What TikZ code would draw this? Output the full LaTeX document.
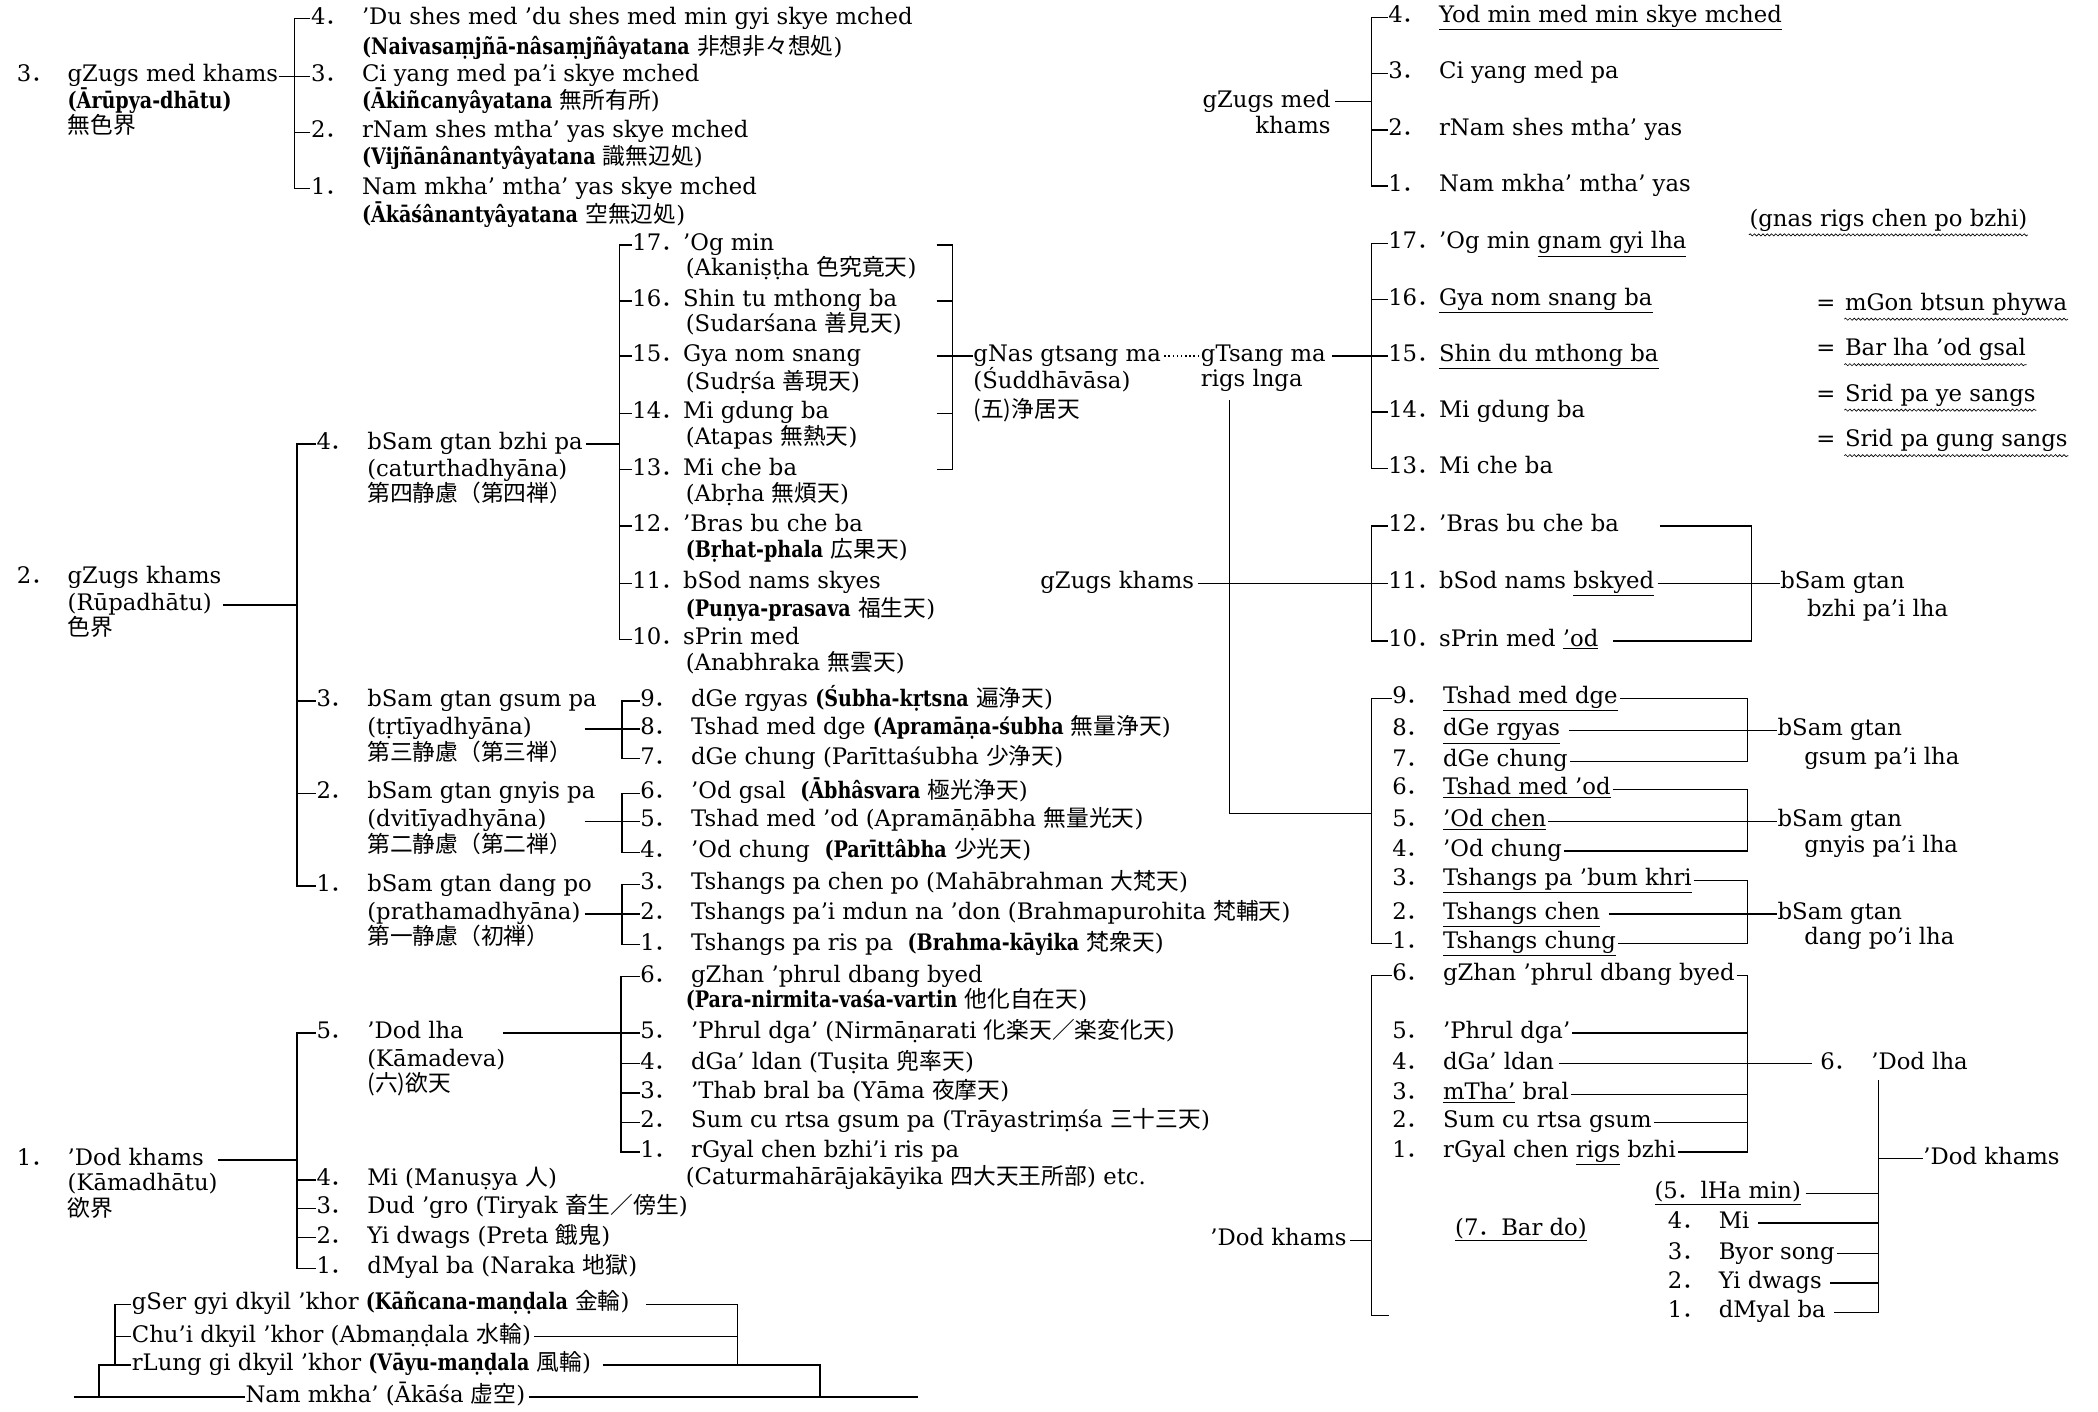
\documentclass[tikz,border=0pt]{standalone}
\usepackage{fontspec}
\setmainfont{DejaVu Serif}
\newfontfamily\jfont{Noto Sans CJK JP}
\newfontfamily\skfont{DejaVu Serif}[FakeStretch=0.84]
\newcommand\J[1]{{\jfont #1}}
\newcommand\sk[1]{{\skfont\bfseries #1}}
\newcommand\nm[1]{\makebox[38pt][l]{#1\J{．}}}
\usetikzlibrary{positioning,decorations.pathmorphing}

\tikzset{
  lbl/.style={anchor=west,inner sep=0pt,text height=12pt,text depth=4pt},
  wavy/.style={decorate,decoration={snake,amplitude=.8pt,segment length=3.2pt},line width=.5pt},
}

\begin{document}
\begin{tikzpicture}[x=1pt,y=-1pt,line width=1.1pt,font=\fontsize{17}{20}\selectfont,every node/.style={lbl}]
  \useasboundingbox (0,0) rectangle (1568,1055);

  % left half: Arupa
  \node (aru)  at (12,57) {\nm{3}gZugs med khams};
  \node (aru2) at (50,77) {\sk{(Ārūpya-dhātu)}};
  \node (aru3) at (50,96) {\J{無色界}};
  \node (a4)  at (232,14)  {\nm{4}’Du shes med ’du shes med min gyi skye mched};
  \node (a4s) at (270,37)  {\sk{(Naivasaṃjñā-nâsaṃjñâyatana} \J{非想非々想処})};
  \node (a3)  at (232,57)  {\nm{3}Ci yang med pa’i skye mched};
  \node (a3s) at (270,77)  {\sk{(Ākiñcanyâyatana} \J{無所有所})};
  \node (a2)  at (232,99)  {\nm{2}rNam shes mtha’ yas skye mched};
  \node (a2s) at (270,119) {\sk{(Vijñānânantyâyatana} \J{識無辺処})};
  \node (a1)  at (232,141) {\nm{1}Nam mkha’ mtha’ yas skye mched};
  \node (a1s) at (270,162) {\sk{(Ākāśânantyâyatana} \J{空無辺処})};
  \coordinate (xA) at (220,0);
  \draw (a4.west) -- (a4.west -| xA) -- (a1.west -| xA) -- (a1.west);
  \draw (a2.west) -- (a2.west -| xA);
  \draw (aru.east) -- (a3.west);

  % left half: Rupa
  \node (rupa)  at (12,432) {\nm{2}gZugs khams};
  \node (rupa2) at (50,452) {(Rūpadhātu)};
  \node (rupa3) at (50,471) {\J{色界}};
  \node (d4)  at (236,332) {\nm{4}bSam gtan bzhi pa};
  \node (d4b) at (274,352) {(caturthadhyāna)};
  \node (d4c) at (274,371) {\J{第四静慮（第四禅）}};
  \node (d3)  at (236,524) {\nm{3}bSam gtan gsum pa};
  \node (d3b) at (274,545) {(tṛtīyadhyāna)};
  \node (d3c) at (274,564) {\J{第三静慮（第三禅）}};
  \node (d2)  at (236,593) {\nm{2}bSam gtan gnyis pa};
  \node (d2b) at (274,614) {(dvitīyadhyāna)};
  \node (d2c) at (274,633) {\J{第二静慮（第二禅）}};
  \node (d1)  at (236,662) {\nm{1}bSam gtan dang po};
  \node (d1b) at (274,683) {(prathamadhyāna)};
  \node (d1c) at (274,702) {\J{第一静慮（初禅）}};
  \coordinate (xR) at (222,0);
  \draw (d4.west) -- (d4.west -| xR) -- (d1.west -| xR) -- (d1.west);
  \draw (d3.west) -- (d3.west -| xR);
  \draw (d2.west) -- (d2.west -| xR);
  \draw ([xshift=8pt]rupa2.east) -- (rupa2.east -| xR);

  \node (h17)  at (472,183) {\nm{17}’Og min};
  \node (h17s) at (512,202) {(Akaniṣṭha \J{色究竟天})};
  \node (h16)  at (472,225) {\nm{16}Shin tu mthong ba};
  \node (h16s) at (512,244) {(Sudarśana \J{善見天})};
  \node (h15)  at (472,266) {\nm{15}Gya nom snang};
  \node (h15s) at (512,287) {(Sudṛśa \J{善現天})};
  \node (h14)  at (472,309) {\nm{14}Mi gdung ba};
  \node (h14s) at (512,328) {(Atapas \J{無熱天})};
  \node (h13)  at (472,351) {\nm{13}Mi che ba};
  \node (h13s) at (512,371) {(Abṛha \J{無煩天})};
  \node (h12)  at (472,393) {\nm{12}’Bras bu che ba};
  \node (h12s) at (512,413) {\sk{(Bṛhat-phala} \J{広果天})};
  \node (h11)  at (472,436) {\nm{11}bSod nams skyes};
  \node (h11s) at (512,457) {\sk{(Puṇya-prasava} \J{福生天})};
  \node (h10)  at (472,478) {\nm{10}sPrin med};
  \node (h10s) at (512,497) {(Anabhraka \J{無雲天})};
  \coordinate (xD) at (463,0);
  \draw (h17.west) -- (h17.west -| xD) -- (h10.west -| xD) -- (h10.west);
  \foreach \n in {h16,h15,h14,h13,h12,h11} \draw (\n.west) -- (\n.west -| xD);
  \draw ([xshift=2pt]d4.east) -- (d4.east -| xD);

  \node (gnas)  at (727,266) {gNas gtsang ma};
  \node (gnas2) at (727,286) {(Śuddhāvāsa)};
  \node (gnas3) at (727,308) {\J{(五)浄居天}};
  \coordinate (xB) at (712,0);
  \draw ([xshift=-12pt]xB |- h17.west) -- (xB |- h17.west) -- (xB |- h13.west) -- ([xshift=-12pt]xB |- h13.west);
  \foreach \n in {h16,h14} \draw ([xshift=-12pt]xB |- \n.west) -- (xB |- \n.west);
  \draw ([xshift=-12pt]xB |- gnas.west) -- (gnas.west);

  \node (g9) at (478,524) {\nm{9}dGe rgyas \sk{(Śubha-kṛtsna} \J{遍浄天})};
  \node (g8) at (478,545) {\nm{8}Tshad med dge \sk{(Apramāṇa-śubha} \J{無量浄天})};
  \node (g7) at (478,567) {\nm{7}dGe chung (Parīttaśubha \J{少浄天})};
  \node (g6) at (478,593) {\nm{6}’Od gsal\ \ \sk{(Ābhâsvara} \J{極光浄天})};
  \node (g5) at (478,614) {\nm{5}Tshad med ’od (Apramāṇābha \J{無量光天})};
  \node (g4) at (478,637) {\nm{4}’Od chung\ \ \sk{(Parīttâbha} \J{少光天})};
  \node (g3) at (478,661) {\nm{3}Tshangs pa chen po (Mahābrahman \J{大梵天})};
  \node (g2) at (478,683) {\nm{2}Tshangs pa’i mdun na ’don (Brahmapurohita\ \J{梵輔天})};
  \node (g1) at (478,706) {\nm{1}Tshangs pa ris pa\ \ \sk{(Brahma-kāyika} \J{梵衆天})};
  \coordinate (xG) at (465,0);
  \coordinate (xJ) at (437,0);
  \draw (g9.west) -- (g9.west -| xG) -- (g7.west -| xG) -- (g7.west);
  \draw (g6.west) -- (g6.west -| xG) -- (g4.west -| xG) -- (g4.west);
  \draw (g3.west) -- (g3.west -| xG) -- (g1.west -| xG) -- (g1.west);
  \draw (d3b.east -| xJ) -- (g8.west);
  \draw (d2b.east -| xJ) -- (g5.west);
  \draw (d1b.east -| xJ) -- (g2.west);

  % left half: Kama
  \node (kam)  at (12,867) {\nm{1}’Dod khams};
  \node (kam2) at (50,886) {(Kāmadhātu)};
  \node (kam3) at (50,905) {\J{欲界}};
  \node (k5)  at (236,772) {\nm{5}’Dod lha};
  \node (k5b) at (274,793) {(Kāmadeva)};
  \node (k5c) at (274,812) {\J{(六)欲天}};
  \node (k4) at (236,882) {\nm{4}Mi (Manuṣya \J{人})};
  \node (k3) at (236,903) {\nm{3}Dud ’gro (Tiryak \J{畜生／傍生})};
  \node (k2) at (236,925) {\nm{2}Yi dwags (Preta \J{餓鬼})};
  \node (k1) at (236,948) {\nm{1}dMyal ba (Naraka \J{地獄})};
  \coordinate (xK) at (222,0);
  \draw (k5.west) -- (k5.west -| xK) -- (k1.west -| xK) -- (k1.west);
  \foreach \n in {k4,k3,k2} \draw (\n.west) -- (\n.west -| xK);
  \draw ([xshift=10pt]kam.east) -- (kam.east -| xK);

  \node (e6)  at (478,730) {\nm{6}gZhan ’phrul dbang byed};
  \node (e6s) at (512,749) {\sk{(Para-nirmita-vaśa-vartin} \J{他化自在天})};
  \node (e5)  at (478,772) {\nm{5}’Phrul dga’ (Nirmāṇarati \J{化楽天／楽変化天})};
  \node (e4)  at (478,795) {\nm{4}dGa’ ldan (Tuṣita \J{兜率天})};
  \node (e3)  at (478,817) {\nm{3}’Thab bral ba (Yāma \J{夜摩天})};
  \node (e2)  at (478,839) {\nm{2}Sum cu rtsa gsum pa (Trāyastriṃśa \J{三十三天})};
  \node (e1)  at (478,861) {\nm{1}rGyal chen bzhi’i ris pa};
  \node (e1s) at (512,881) {(Caturmahārājakāyika \J{四大天王所部}) etc.};
  \coordinate (xE) at (464,0);
  \coordinate (xL) at (376,0);
  \draw (e6.west) -- (e6.west -| xE) -- (e1.west -| xE) -- (e1.west);
  \foreach \n in {e4,e3,e2} \draw (\n.west) -- (\n.west -| xE);
  \draw (k5.east -| xL) -- (e5.west);

  % mandalas
  \node (m3) at (98,975)  {gSer gyi dkyil ’khor \sk{(Kāñcana-maṇḍala} \J{金輪})};
  \node (m2) at (98,999)  {Chu’i dkyil ’khor (Abmaṇḍala \J{水輪})};
  \node (m1) at (98,1020) {rLung gi dkyil ’khor \sk{(Vāyu-maṇḍala} \J{風輪})};
  \node (m0) at (183,1044) {Nam mkha’ (Ākāśa \J{虚空})};
  \coordinate (xM) at (86,0);
  \coordinate (xN) at (74,0);
  \coordinate (xO) at (55,0);
  \coordinate (xP) at (551,0);
  \coordinate (xQ) at (613,0);
  \coordinate (xZ) at (686,0);
  \draw (m3.west) -- (m3.west -| xM) -- (m1.west -| xM);
  \draw (m2.west) -- (m2.west -| xM);
  \draw (m1.west) -- (m1.west -| xN) -- (m0.west -| xN);
  \draw (m0.west -| xO) -- (m0.west);
  \draw ([xshift=2pt]m0.east) -- (m0.east -| xZ);
  \draw ([xshift=12pt]m3.east) -- (m3.east -| xP) -- (m1.east -| xP);
  \draw ([xshift=2pt]m2.east) -- (m2.east -| xP);
  \draw ([xshift=8pt]m1.east) -- (m1.east -| xQ) -- (m0.east -| xQ);

  % right half: Tibetan names
  \node[anchor=east] (zm)  at (995,76) {gZugs med};
  \node[anchor=east] (zm2) at (995,96) {khams};
  \node (y4) at (1037,13)  {\nm{4}\underline{Yod min med min skye mched}};
  \node (y3) at (1037,55)  {\nm{3}Ci yang med pa};
  \node (y2) at (1037,97)  {\nm{2}rNam shes mtha’ yas};
  \node (y1) at (1037,139) {\nm{1}Nam mkha’ mtha’ yas};
  \coordinate (xT) at (1025,0);
  \draw (y4.west) -- (y4.west -| xT) -- (y1.west -| xT) -- (y1.west);
  \draw (y3.west) -- (y3.west -| xT);
  \draw (y2.west) -- (y2.west -| xT);
  \draw ([xshift=3pt]zm.east) -- (zm.east -| xT);

  \node (gnr) at (1307,165) {(gnas rigs chen po bzhi)};
  \draw[wavy] ([yshift=-2pt]gnr.south west) -- ([yshift=-2pt]gnr.south east);

  \node (t17) at (1037,182) {\nm{17}’Og min \underline{gnam gyi lha}};
  \node (t16) at (1037,224) {\nm{16}\underline{Gya nom snang ba}};
  \node (t15) at (1037,266) {\nm{15}\underline{Shin du mthong ba}};
  \node (t14) at (1037,308) {\nm{14}Mi gdung ba};
  \node (t13) at (1037,350) {\nm{13}Mi che ba};
  \draw (t17.west) -- (t17.west -| xT) -- (t13.west -| xT) -- (t13.west);
  \foreach \n in {t16,t14} \draw (\n.west) -- (\n.west -| xT);

  \node (gts)  at (897,266) {gTsang ma};
  \node (gts2) at (897,285) {rigs lnga};
  \draw[dotted] ([xshift=2pt]gnas.east) -- ([xshift=-2pt]gts.west);
  \draw ([xshift=4pt]gts.east) -- (t15.west);

  \node (eqA) at (1357,228) {=};
  \node[right=6pt of eqA] (altA) {mGon btsun phywa};
  \node (eqB) at (1357,262) {=};
  \node[right=6pt of eqB] (altB) {Bar lha ’od gsal};
  \node (eqC) at (1357,296) {=};
  \node[right=6pt of eqC] (altC) {Srid pa ye sangs};
  \node (eqD) at (1357,330) {=};
  \node[right=6pt of eqD] (altD) {Srid pa gung sangs};
  \foreach \n in {altA,altB,altC,altD}
    \draw[wavy] ([yshift=-2pt]\n.south west) -- ([yshift=-2pt]\n.south east);

  \node (r12) at (1037,393) {\nm{12}’Bras bu che ba};
  \node (r11) at (1037,436) {\nm{11}bSod nams \underline{bskyed}};
  \node (r10) at (1037,479) {\nm{10}sPrin med \underline{’od}};
  \draw (r12.west) -- (r12.west -| xT) -- (r10.west -| xT) -- (r10.west);
  \node[anchor=east] (gzk) at (893,436) {gZugs khams};
  \draw ([xshift=2pt]gzk.east) -- (r11.west);
  \node (bs4)  at (1330,436) {bSam gtan};
  \node (bs4b) at (1350,457) {bzhi pa’i lha};
  \coordinate (xU) at (1309,0);
  \draw ([xshift=30pt]r12.east) -- (r12.east -| xU) -- (r10.east -| xU) -- ([xshift=10pt]r10.east);
  \draw ([xshift=2pt]r11.east) -- (bs4.west);

  \coordinate (vTop) at (919,299);
  \coordinate (vJoin) at (1025,608);
  \draw (vTop) |- (vJoin);

  \node (u9) at (1040,522) {\nm{9}\underline{Tshad med dge}};
  \node (u8) at (1040,546) {\nm{8}\underline{dGe rgyas}};
  \node (u7) at (1040,569) {\nm{7}dGe chung};
  \node (u6) at (1040,590) {\nm{6}\underline{Tshad med ’od}};
  \node (u5) at (1040,614) {\nm{5}\underline{’Od chen}};
  \node (u4) at (1040,636) {\nm{4}’Od chung};
  \node (u3) at (1040,658) {\nm{3}\underline{Tshangs pa ’bum khri}};
  \node (u2) at (1040,683) {\nm{2}\underline{Tshangs chen}};
  \node (u1) at (1040,705) {\nm{1}\underline{Tshangs chung}};
  \draw (u9.west) -- (u9.west -| xT) -- (u1.west -| xT) -- (u1.west);
  \node (bs3)  at (1328,546) {bSam gtan};
  \node (bs3b) at (1348,567) {gsum pa’i lha};
  \node (bs2)  at (1328,614) {bSam gtan};
  \node (bs2b) at (1348,633) {gnyis pa’i lha};
  \node (bs1)  at (1328,683) {bSam gtan};
  \node (bs1b) at (1348,702) {dang po’i lha};
  \coordinate (xW) at (1306,0);
  \draw ([xshift=1pt]u9.east) -- (u9.east -| xW) -- (u7.east -| xW) -- ([xshift=1pt]u7.east);
  \draw ([xshift=6pt]u8.east) -- (bs3.west);
  \draw ([xshift=1pt]u6.east) -- (u6.east -| xW) -- (u4.east -| xW) -- ([xshift=1pt]u4.east);
  \draw ([xshift=1pt]u5.east) -- (bs2.west);
  \draw ([xshift=1pt]u3.east) -- (u3.east -| xW) -- (u1.east -| xW) -- ([xshift=1pt]u1.east);
  \draw ([xshift=6pt]u2.east) -- (bs1.west);

  \node[anchor=east] (dk) at (1007,927) {’Dod khams};
  \node (v6) at (1040,729) {\nm{6}gZhan ’phrul dbang byed};
  \node (v5) at (1040,772) {\nm{5}’Phrul dga’};
  \node (v4) at (1040,795) {\nm{4}dGa’ ldan};
  \node (v3) at (1040,818) {\nm{3}\underline{mTha’} bral};
  \node (v2) at (1040,839) {\nm{2}Sum cu rtsa gsum};
  \node (v1) at (1040,861) {\nm{1}rGyal chen \underline{rigs} bzhi};
  \coordinate (kBot) at (1038,983);
  \draw (v6.west) -- (v6.west -| xT) -- (kBot -| xT) -- (kBot);
  \draw ([xshift=2pt]dk.east) -- (dk.east -| xT);
  \draw ([xshift=1pt]v6.east) -- (v6.east -| xW) -- (v1.east -| xW) -- ([xshift=1pt]v1.east);
  \foreach \n in {v5,v3,v2} \draw ([xshift=1pt]\n.east) -- (\n.east -| xW);
  \node (dl) at (1360,795) {\nm{6}’Dod lha};
  \draw ([xshift=3pt]v4.east) -- ([xshift=-6pt]dl.west);

  \node (bardo) at (1087,919) {\underline{(7\J{．}Bar do)}};
  \node (x5) at (1236,892) {\underline{(5\J{．}lHa min)}};
  \node (x4) at (1246,914) {\nm{4}Mi};
  \node (x3) at (1246,937) {\nm{3}Byor song};
  \node (x2) at (1246,959) {\nm{2}Yi dwags};
  \node (x1) at (1246,981) {\nm{1}dMyal ba};
  \node (dk2) at (1437,866) {’Dod khams};
  \coordinate (dlBot) at (1404,807);
  \draw (dlBot) -- (dlBot |- x1.west) -- ([xshift=6pt]x1.east);
  \draw (dlBot |- dk2.west) -- (dk2.west);
  \draw ([xshift=3pt]x5.east) -- (x5.east -| dlBot);
  \draw ([xshift=6pt]x4.east) -- (x4.east -| dlBot);
  \draw ([xshift=1pt]x3.east) -- (x3.east -| dlBot);
  \draw ([xshift=6pt]x2.east) -- (x2.east -| dlBot);
\end{tikzpicture}
\end{document}
